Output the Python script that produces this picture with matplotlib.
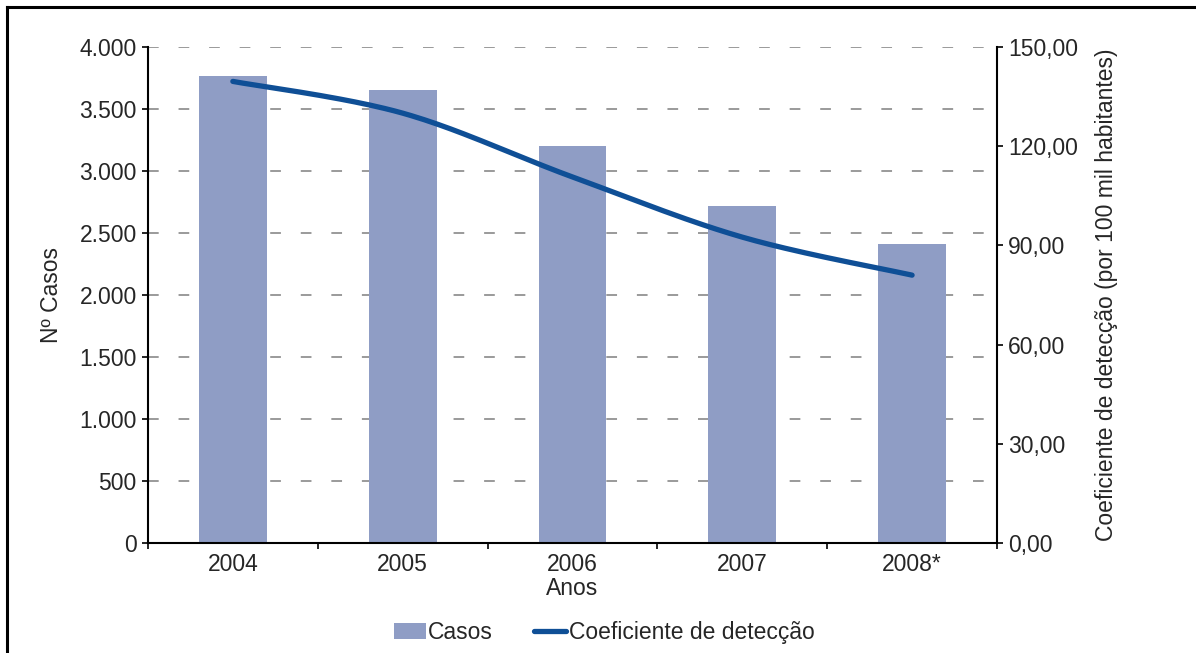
import numpy as np
import matplotlib.pyplot as plt
from matplotlib.lines import Line2D
from matplotlib.patches import Patch
from matplotlib.ticker import FixedLocator, NullFormatter

plt.rcParams['font.family'] = ['Liberation Sans', 'DejaVu Sans']

anos = ['2004', '2005', '2006', '2007', '2008*']
casos = [3766, 3651, 3202, 2718, 2409]
coeficiente = [139.6, 130.0, 110.7, 92.5, 81.0]

cor_barra = '#8f9dc5'
cor_linha = '#0f4f96'
cor_texto = '#262626'
fs = 16.5


def suavizar(x, y, n=40):
    # curva de Bezier com tangentes tipo Catmull-Rom (linha suavizada do Excel)
    p = np.column_stack([x, y]).astype(float)
    p = np.vstack([p[0], p, p[-1]])
    xs, ys = [], []
    t = np.linspace(0, 1, n)[:, None]
    for i in range(1, len(p) - 2):
        p0, p1 = p[i], p[i + 1]
        c1 = p0 + (p[i + 1] - p[i - 1]) / 6
        c2 = p1 - (p[i + 2] - p[i]) / 6
        seg = ((1 - t) ** 3) * p0 + 3 * ((1 - t) ** 2) * t * c1 + 3 * (1 - t) * t ** 2 * c2 + t ** 3 * p1
        xs.extend(seg[:, 0])
        ys.extend(seg[:, 1])
    return np.array(xs), np.array(ys)


fig = plt.figure(figsize=(11.96, 6.53), dpi=100)
ax = fig.add_axes([0.1237, 0.1685, 0.7099, 0.7595])
ax2 = ax.twinx()

x = np.arange(len(anos))
ax.bar(x, casos, width=0.4, color=cor_barra, zorder=2)
ax.set_xlim(-0.5, len(anos) - 0.5)
ax.set_ylim(0, 4000)
ax.set_yticks(np.arange(0, 4001, 500))
ax.set_yticklabels(['0', '500', '1.000', '1.500', '2.000', '2.500', '3.000', '3.500', '4.000'])
ax.yaxis.grid(True, linestyle=(0, (7, 13)), color='#7f7f7f', linewidth=1.1, zorder=0)
ax.set_axisbelow(True)

# ticks do eixo x entre as categorias
ax.set_xticks(x)
ax.set_xticklabels(anos)
ax.tick_params(axis='x', which='major', length=0, pad=7)
ax.xaxis.set_minor_locator(FixedLocator(np.arange(-0.5, len(anos), 1)))
ax.xaxis.set_minor_formatter(NullFormatter())
ax.tick_params(axis='x', which='minor', length=4, width=1.2, direction='out', color='black')
ax.tick_params(axis='y', length=4, width=1.2, direction='out', pad=4)

for s in ['top', 'right']:
    ax.spines[s].set_visible(False)
for s in ['left', 'bottom']:
    ax.spines[s].set_linewidth(1.5)

xs, ys = suavizar(x, coeficiente)
ax2.plot(xs, ys, color=cor_linha, linewidth=3.8, solid_capstyle='round', zorder=3)
ax2.set_ylim(0, 150)
ax2.set_yticks(np.arange(0, 151, 30))
ax2.set_yticklabels([f'{v},00' for v in range(0, 151, 30)])
ax2.tick_params(axis='y', length=4, width=1.2, direction='out', pad=4)
for s in ['top', 'left', 'bottom']:
    ax2.spines[s].set_visible(False)
ax2.spines['right'].set_linewidth(1.5)

for a in (ax, ax2):
    for lab in a.get_xticklabels() + a.get_yticklabels():
        lab.set_fontsize(fs)
        lab.set_color(cor_texto)

ax.set_xlabel('Anos', fontsize=fs, color=cor_texto, labelpad=1)
ax.set_ylabel('Nº Casos', fontsize=fs, color=cor_texto, labelpad=12)
ax2.set_ylabel('Coeficiente de detecção (por 100 mil habitantes)', fontsize=fs, color=cor_texto, labelpad=12)

handles = [Patch(facecolor=cor_barra, edgecolor='none'),
           Line2D([], [], color=cor_linha, linewidth=3.8, solid_capstyle='round')]
fig.legend(handles, ['Casos', 'Coeficiente de detecção'], loc='center', bbox_to_anchor=(0.505, 0.032),
           ncol=2, frameon=False, fontsize=fs, handlelength=1.4, handletextpad=0.1,
           columnspacing=1.8, labelcolor=cor_texto)

# moldura superior e esquerda
fig.add_artist(Line2D([0.006, 0.006], [0, 0.9893], transform=fig.transFigure, color='black', linewidth=2.2))
fig.add_artist(Line2D([0.006, 1], [0.9893, 0.9893], transform=fig.transFigure, color='black', linewidth=2.2))

fig.savefig('out.png', dpi=100)
